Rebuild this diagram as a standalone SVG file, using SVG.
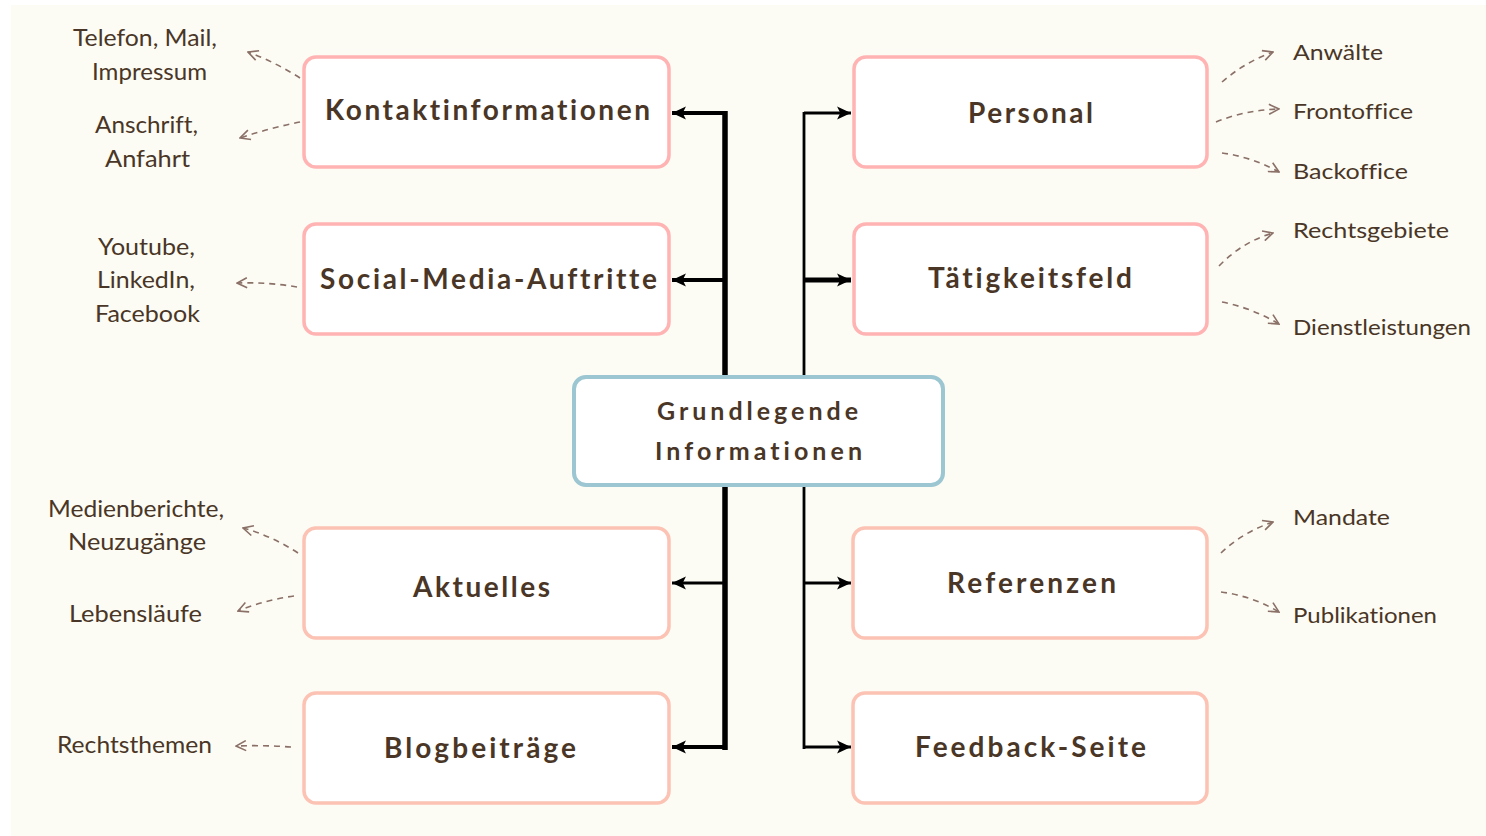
<svg xmlns="http://www.w3.org/2000/svg" width="1486" height="836" viewBox="0 0 1486 836">
  <style>
    .bg { fill: #fcfcf4; }
    .node-top rect { fill: #ffffff; stroke: #ffb3b3; stroke-width: 3.5; }
    .node-bottom rect { fill: #ffffff; stroke: #fcc2b3; stroke-width: 3.5; }
    .node-center rect { fill: #ffffff; stroke: #9cc6d1; stroke-width: 4; }
    text { font-variant-ligatures: none; }
    .title { font-family: Lato, "Open Sans", sans-serif; font-weight: 700; font-size: 28px; fill: #4a3626; }
    .title-center { font-family: Lato, "Open Sans", sans-serif; font-weight: 700; font-size: 25px; fill: #4a3626; }
    .leaf { font-family: Lato, "Liberation Sans", sans-serif; font-weight: 400; font-size: 24px; fill: #4a3626; }
    .leaf-r { font-family: Lato, "Liberation Sans", sans-serif; font-weight: 400; font-size: 22px; fill: #4a3626; }
    .trunk { fill: none; stroke: #000000; }
    .branch { fill: none; stroke: #000000; marker-end: url(#head); }
    .hint { fill: none; stroke: #8a7067; stroke-width: 1.6; stroke-dasharray: 6 5; marker-end: url(#chev); }
  </style>
  <defs>
    <marker id="head" viewBox="0 0 14 14" refX="13" refY="7" markerWidth="15" markerHeight="15" markerUnits="userSpaceOnUse" orient="auto">
      <path d="M0,1 L13,7 L0,13 L3,7 Z" fill="#000000"/>
    </marker>
    <marker id="chev" viewBox="0 0 12 12" refX="11" refY="6" markerWidth="12" markerHeight="12" markerUnits="userSpaceOnUse" orient="auto">
      <path d="M1,1 L11,6 L1,11" fill="none" stroke="#8a7067" stroke-width="1.6"/>
    </marker>
  </defs>

  <rect class="bg" x="11" y="5" width="1475" height="831"/>

  <!-- connectors -->
  <g id="connectors">
    <line class="trunk" x1="725" y1="111" x2="725" y2="750" stroke-width="5.5"/>
    <line class="trunk" x1="804" y1="112" x2="804" y2="749" stroke-width="2.8"/>
    <line class="branch" x1="725" y1="113" x2="672" y2="113" stroke-width="4"/>
    <line class="branch" x1="725" y1="280" x2="672" y2="280" stroke-width="4"/>
    <line class="branch" x1="725" y1="583" x2="672" y2="583" stroke-width="3"/>
    <line class="branch" x1="725" y1="747" x2="672" y2="747" stroke-width="4"/>
    <line class="branch" x1="804" y1="113" x2="851" y2="113" stroke-width="3"/>
    <line class="branch" x1="804" y1="280" x2="851" y2="280" stroke-width="5"/>
    <line class="branch" x1="804" y1="583" x2="851" y2="583" stroke-width="3"/>
    <line class="branch" x1="804" y1="747" x2="851" y2="747" stroke-width="3"/>

    <path class="hint" d="M300,78 Q275,62 248,52"/>
    <path class="hint" d="M300,122 Q270,128 240,138"/>
    <path class="hint" d="M297,287 Q268,282 237,283"/>
    <path class="hint" d="M1222,82 Q1245,62 1273,52"/>
    <path class="hint" d="M1216,122 Q1245,110 1279,109"/>
    <path class="hint" d="M1222,153 Q1252,157 1279,172"/>
    <path class="hint" d="M1219,266 Q1242,242 1273,233"/>
    <path class="hint" d="M1222,302 Q1252,308 1279,324"/>
    <path class="hint" d="M298,553 Q272,536 243,528"/>
    <path class="hint" d="M294,596 Q265,600 238,611"/>
    <path class="hint" d="M291,747 Q263,745 236,746"/>
    <path class="hint" d="M1221,553 Q1243,532 1273,522"/>
    <path class="hint" d="M1221,592 Q1252,596 1279,612"/>
  </g>

  <!-- nodes -->
  <g id="n-center" class="node-center">
    <rect x="574" y="377" width="369" height="108" rx="12"/>
    <text class="title-center" x="657" y="420" textLength="201" lengthAdjust="spacing">Grundlegende</text>
    <text class="title-center" x="655" y="460" textLength="207" lengthAdjust="spacing">Informationen</text>
  </g>

  <g id="n-kontakt" class="node-top">
    <rect x="304" y="57" width="365" height="110" rx="12"/>
    <text class="title" x="325" y="120" textLength="325" lengthAdjust="spacing">Kontaktinformationen</text>
  </g>
  <g id="n-social" class="node-top">
    <rect x="304" y="224" width="365" height="110" rx="12"/>
    <text class="title" x="320" y="289" textLength="337" lengthAdjust="spacing">Social-Media-Auftritte</text>
  </g>
  <g id="n-personal" class="node-top">
    <rect x="854" y="57" width="353" height="110" rx="12"/>
    <text class="title" x="968" y="123" textLength="125" lengthAdjust="spacing">Personal</text>
  </g>
  <g id="n-taetigkeit" class="node-top">
    <rect x="854" y="224" width="353" height="110" rx="12"/>
    <text class="title" x="928" y="288" textLength="204" lengthAdjust="spacing">Tätigkeitsfeld</text>
  </g>
  <g id="n-aktuelles" class="node-bottom">
    <rect x="304" y="528" width="365" height="110" rx="12"/>
    <text class="title" x="413" y="597" textLength="137" lengthAdjust="spacing">Aktuelles</text>
  </g>
  <g id="n-blog" class="node-bottom">
    <rect x="304" y="693" width="365" height="110" rx="12"/>
    <text class="title" x="384" y="758" textLength="192" lengthAdjust="spacing">Blogbeiträge</text>
  </g>
  <g id="n-referenzen" class="node-bottom">
    <rect x="853" y="528" width="354" height="110" rx="12"/>
    <text class="title" x="947" y="593" textLength="169" lengthAdjust="spacing" font-weight="600">Referenzen</text>
  </g>
  <g id="n-feedback" class="node-bottom">
    <rect x="853" y="693" width="354" height="110" rx="12"/>
    <text class="title" x="915" y="757" textLength="231" lengthAdjust="spacing">Feedback-Seite</text>
  </g>

  <!-- leaf labels -->
  <g id="leaves-left">
    <text class="leaf" x="73" y="46" textLength="144" lengthAdjust="spacingAndGlyphs">Telefon, Mail,</text>
    <text class="leaf" x="92" y="80" textLength="115" lengthAdjust="spacingAndGlyphs">Impressum</text>
    <text class="leaf" x="95" y="133" textLength="103" lengthAdjust="spacingAndGlyphs">Anschrift,</text>
    <text class="leaf" x="105" y="167" textLength="85" lengthAdjust="spacingAndGlyphs">Anfahrt</text>
    <text class="leaf" x="98" y="255" textLength="97" lengthAdjust="spacingAndGlyphs">Youtube,</text>
    <text class="leaf" x="97" y="288" textLength="98" lengthAdjust="spacingAndGlyphs">LinkedIn,</text>
    <text class="leaf" x="95" y="322" textLength="105" lengthAdjust="spacingAndGlyphs">Facebook</text>
    <text class="leaf" x="48" y="517" textLength="176" lengthAdjust="spacingAndGlyphs">Medienberichte,</text>
    <text class="leaf" x="68" y="550" textLength="138" lengthAdjust="spacingAndGlyphs">Neuzugänge</text>
    <text class="leaf" x="69" y="622" textLength="133" lengthAdjust="spacingAndGlyphs">Lebensläufe</text>
    <text class="leaf" x="57" y="753" textLength="155" lengthAdjust="spacingAndGlyphs">Rechtsthemen</text>
  </g>
  <g id="leaves-right">
    <text class="leaf-r" x="1293" y="60" textLength="90" lengthAdjust="spacingAndGlyphs">Anwälte</text>
    <text class="leaf-r" x="1293" y="119" textLength="120" lengthAdjust="spacingAndGlyphs">Frontoffice</text>
    <text class="leaf-r" x="1293" y="179" textLength="115" lengthAdjust="spacingAndGlyphs">Backoffice</text>
    <text class="leaf-r" x="1293" y="238" textLength="156" lengthAdjust="spacingAndGlyphs">Rechtsgebiete</text>
    <text class="leaf-r" x="1293" y="335" textLength="178" lengthAdjust="spacingAndGlyphs">Dienstleistungen</text>
    <text class="leaf-r" x="1293" y="525" textLength="97" lengthAdjust="spacingAndGlyphs">Mandate</text>
    <text class="leaf-r" x="1293" y="623" textLength="144" lengthAdjust="spacingAndGlyphs">Publikationen</text>
  </g>
</svg>
